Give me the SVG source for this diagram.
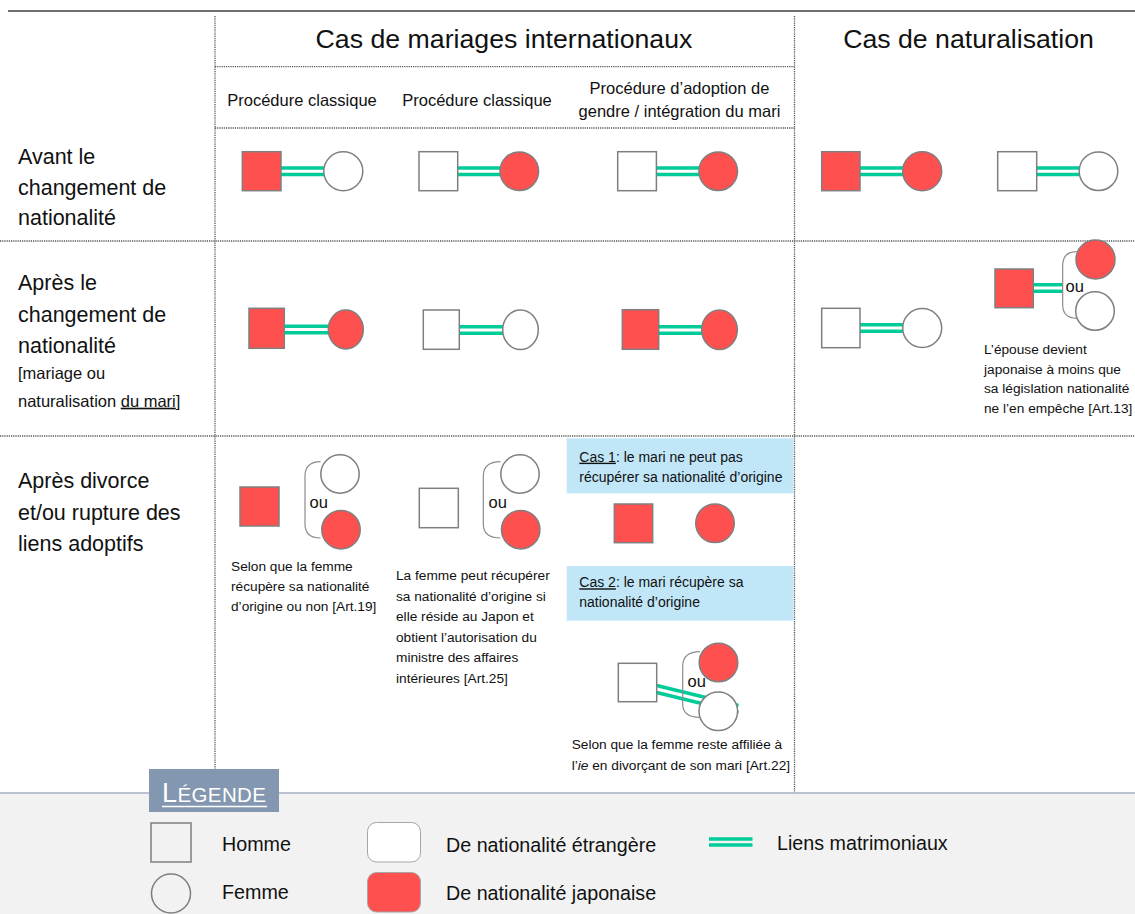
<svg xmlns="http://www.w3.org/2000/svg" width="1135" height="914" viewBox="0 0 1135 914">
<style>
text{font-family:"Liberation Sans",Arial,sans-serif;fill:#111}
.t{font-size:26.7px}
.h{font-size:16.5px}
.r{font-size:21.5px}
.rs{font-size:16.5px}
.s{font-size:13.7px}
.c{font-size:14px}
.ou{font-size:16.5px}
.lg{font-size:19.7px}
.f{fill:#fff;stroke:#7f7f7f;stroke-width:1.5}
.j{fill:#FF5050;stroke:#7f7f7f;stroke-width:1.5}
.lk{fill:none;stroke:#00CC99;stroke-width:3.5}
.br{fill:none;stroke:#8c8c8c;stroke-width:1.2}
.dot{stroke:#555;stroke-width:1.3;stroke-dasharray:1.2 1;fill:none}
.blue{fill:#C0E6F8}
</style>
<rect width="1135" height="914" fill="#fff"/>
<g id="grid">
<line x1="8" y1="11" x2="1135" y2="11" stroke="#404040" stroke-width="1.3"/>
<line class="dot" x1="215" y1="16" x2="215" y2="793"/>
<line class="dot" x1="794.5" y1="16" x2="794.5" y2="793"/>
<line class="dot" x1="215" y1="66.7" x2="794.5" y2="66.7"/>
<line class="dot" x1="215" y1="128" x2="794.5" y2="128"/>
<line class="dot" x1="0" y1="241" x2="1135" y2="241"/>
<line class="dot" x1="0" y1="436" x2="1135" y2="436"/>
</g>
<g id="headers">
<text class="t" x="504" y="48.3" text-anchor="middle">Cas de mariages internationaux</text>
<text class="t" x="968.5" y="48.3" text-anchor="middle">Cas de naturalisation</text>
<text class="h" x="302" y="106" text-anchor="middle">Procédure classique</text>
<text class="h" x="477" y="106" text-anchor="middle">Procédure classique</text>
<text class="h" x="679.5" y="94" text-anchor="middle">Procédure d’adoption de</text>
<text class="h" x="679.5" y="116.5" text-anchor="middle">gendre / intégration du mari</text>
</g>
<g id="row-labels">
<text class="r" x="18"><tspan x="18" y="164">Avant le</tspan><tspan x="18" y="194.5">changement de</tspan><tspan x="18" y="225">nationalité</tspan></text>
<text class="r" x="18"><tspan x="18" y="290">Après le</tspan><tspan x="18" y="321.5">changement de</tspan><tspan x="18" y="353">nationalité</tspan></text>
<text class="rs" x="18"><tspan x="18" y="379.3">[mariage ou</tspan><tspan x="18" y="406.7">naturalisation <tspan text-decoration="underline">du mari</tspan>]</tspan></text>
<text class="r" x="18"><tspan x="18" y="488">Après divorce</tspan><tspan x="18" y="519.5">et/ou rupture des</tspan><tspan x="18" y="551">liens adoptifs</tspan></text>
</g>
<g id="connectors">
<path class="lk" d="M281 168H324M281 174.5H324"/>
<path class="lk" d="M457.7 168H500.5M457.7 174.5H500.5"/>
<path class="lk" d="M656.3 168H699.5M656.3 174.5H699.5"/>
<path class="lk" d="M860 168H903.5M860 174.5H903.5"/>
<path class="lk" d="M1036.7 168H1080M1036.7 174.5H1080"/>
<path class="lk" d="M284.3 326.2H329M284.3 332.8H329"/>
<path class="lk" d="M459.3 326.7H503.5M459.3 333.3H503.5"/>
<path class="lk" d="M658.7 326.7H702.5M658.7 333.3H702.5"/>
<path class="lk" d="M860 324.8H903.5M860 331.3H903.5"/>
<path class="lk" d="M1033.3 284.8H1062.7M1033.3 291.3H1062.7"/>
<path class="lk" d="M656.7 685.5L738.5 705.5M656.7 692.5L738.5 712.5"/>
</g>
<g id="r1-c1"><rect class="j" x="242.3" y="151.7" width="38.7" height="39"/><circle class="f" cx="343.3" cy="171.2" r="19.5"/></g>
<g id="r1-c2"><rect class="f" x="419" y="151.7" width="38.7" height="39"/><circle class="j" cx="519.3" cy="171.2" r="19.3"/></g>
<g id="r1-c3"><rect class="f" x="617.7" y="151.7" width="38.7" height="39"/><circle class="j" cx="718.2" cy="171.2" r="19.3"/></g>
<g id="r1-n1"><rect class="j" x="821.7" y="151.7" width="38.3" height="39"/><circle class="j" cx="922.2" cy="171.2" r="19.5"/></g>
<g id="r1-n2"><rect class="f" x="997.7" y="151.7" width="39" height="39"/><circle class="f" cx="1098.5" cy="171.2" r="19.3"/></g>
<g id="r2-c1"><rect class="j" x="249" y="308.3" width="35.3" height="40"/><ellipse class="j" cx="345.8" cy="329.5" rx="17.5" ry="19.5"/></g>
<g id="r2-c2"><rect class="f" x="423.3" y="310" width="36" height="39.3"/><ellipse class="f" cx="520.5" cy="329.8" rx="17.8" ry="19.8"/></g>
<g id="r2-c3"><rect class="j" x="622.3" y="309.7" width="36.4" height="39.6"/><ellipse class="j" cx="719.5" cy="329.8" rx="17.8" ry="19.8"/></g>
<g id="r2-n1"><rect class="f" x="821.7" y="308.3" width="38.3" height="39.4"/><circle class="f" cx="922.2" cy="328" r="19.5"/></g>
<g id="r2-n2">
<rect class="j" x="995" y="269" width="38.3" height="38.7"/>
<path class="br" d="M1076.7 251.7Q1062.7 252 1062.7 265V305Q1062.7 318 1076.7 318.3"/>
<circle class="j" cx="1095.5" cy="259.5" r="19.5"/>
<circle class="f" cx="1095" cy="311" r="19.3"/>
<text class="ou" x="1065.5" y="292">ou</text>
<text class="s"><tspan x="984" y="354">L’épouse devient</tspan><tspan x="984" y="373.5">japonaise à moins que</tspan><tspan x="984" y="393">sa législation nationalité</tspan><tspan x="984" y="412.5">ne l’en empêche [Art.13]</tspan></text>
</g>
<g id="r3-c1">
<rect class="j" x="240" y="487" width="39" height="39"/>
<path class="br" d="M320.5 461.7Q305 462 305 476V524Q305 538 320.5 538"/>
<circle class="f" cx="340" cy="474" r="19.2"/>
<circle class="j" cx="341" cy="529.7" r="19.2"/>
<text class="ou" x="309.5" y="508.3">ou</text>
<text class="s"><tspan x="231" y="571">Selon que la femme</tspan><tspan x="231" y="591">récupère sa nationalité</tspan><tspan x="231" y="611">d’origine ou non [Art.19]</tspan></text>
</g>
<g id="r3-c2">
<rect class="f" x="419.3" y="488.3" width="39" height="39.4"/>
<path class="br" d="M500.5 461.7Q483.3 462 483.3 476V524Q483.3 538 500.5 538"/>
<circle class="f" cx="520" cy="474" r="19.2"/>
<circle class="j" cx="520.7" cy="529.7" r="19.2"/>
<text class="ou" x="488.5" y="508.3">ou</text>
<text class="s"><tspan x="396" y="580">La femme peut récupérer</tspan><tspan x="396" y="600.5">sa nationalité d’origine si</tspan><tspan x="396" y="621">elle réside au Japon et</tspan><tspan x="396" y="641.5">obtient l’autorisation du</tspan><tspan x="396" y="662">ministre des affaires</tspan><tspan x="396" y="682.5">intérieures [Art.25]</tspan></text>
</g>
<g id="r3-c3-cas1">
<rect class="blue" x="566.7" y="438.3" width="226.8" height="55"/>
<text class="c"><tspan x="579.3" y="461.7"><tspan text-decoration="underline">Cas 1</tspan>: le mari ne peut pas</tspan><tspan x="579.3" y="482.3">récupérer sa nationalité d’origine</tspan></text>
<rect class="j" x="614.3" y="504" width="38.4" height="38.7"/>
<circle class="j" cx="715" cy="523.3" r="19.3"/>
</g>
<g id="r3-c3-cas2">
<rect class="blue" x="566.7" y="566" width="226.8" height="54.7"/>
<text class="c"><tspan x="579.3" y="587.3"><tspan text-decoration="underline">Cas 2</tspan>: le mari récupère sa</tspan><tspan x="579.3" y="607.3">nationalité d’origine</tspan></text>
</g>
<g id="r3-c3-cas2-couple">
<rect class="f" x="618.3" y="663.3" width="38.4" height="38.4"/>
<path class="br" d="M700 651.7Q682.7 652 682.7 666V704Q682.7 717.3 700 717.3"/>
<circle class="j" cx="718.5" cy="662.5" r="19.3"/>
<circle class="f" cx="718.3" cy="711.3" r="19.3"/>
<text class="ou" x="687.5" y="687.3">ou</text>
<text class="s"><tspan x="571.7" y="749.3">Selon que la femme reste affiliée à</tspan><tspan x="571.7" y="770">l’<tspan font-style="italic">ie</tspan> en divorçant de son mari [Art.22]</tspan></text>
</g>
<g id="legend">
<rect x="0" y="793" width="1135" height="121" fill="#F2F2F2"/>
<line x1="0" y1="793" x2="1135" y2="793" stroke="#A7B1C2" stroke-width="1.3"/>
<rect x="149" y="769" width="130" height="43" fill="#8497B0"/>
<text x="162" y="802" style="fill:#fff" letter-spacing="0.4"><tspan font-size="27">L</tspan><tspan font-size="20.5">ÉGENDE</tspan></text>
<line x1="162" y1="806.5" x2="267" y2="806.5" stroke="#fff" stroke-width="1.3"/>
<rect x="151" y="823" width="40" height="39" fill="#F2F2F2" stroke="#7f7f7f" stroke-width="1.5"/>
<circle cx="171" cy="893.5" r="19.5" fill="#F2F2F2" stroke="#7f7f7f" stroke-width="1.5"/>
<text class="lg" x="222" y="851">Homme</text>
<text class="lg" x="222" y="899">Femme</text>
<rect x="367.5" y="822.5" width="53" height="39.5" rx="9" fill="#fff" stroke="#a6a6a6" stroke-width="1"/>
<rect x="367.5" y="872.5" width="53" height="39.5" rx="9" fill="#FF5050" stroke="#a6a6a6" stroke-width="1"/>
<text class="lg" x="446" y="852">De nationalité étrangère</text>
<text class="lg" x="446" y="900">De nationalité japonaise</text>
<path d="M709 839H752.5M709 845H752.5" stroke="#00CC99" stroke-width="3.5" fill="none"/>
<text class="lg" x="777" y="850">Liens matrimoniaux</text>
</g>
</svg>
